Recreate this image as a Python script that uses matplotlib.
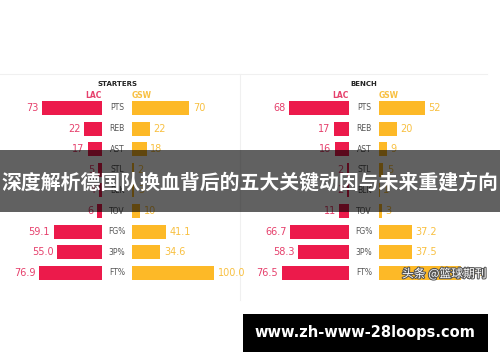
import matplotlib.pyplot as plt
import matplotlib.patheffects as pe
from matplotlib.patches import Rectangle

# stats rows (top to bottom)
stats = ['PTS', 'REB', 'AST', 'STL', 'BLK', 'TOV', 'FG%', '3P%', 'FT%']
value_fmt = ['{:.0f}'] * 6 + ['{:.1f}'] * 3

starters_lac = [73, 22, 17, 5, 4, 6, 59.1, 55.0, 76.9]
starters_gsw = [70, 22, 18, 2, 3, 10, 41.1, 34.6, 100.0]
bench_lac = [68, 17, 16, 2, 2, 11, 66.7, 58.3, 76.5]
bench_gsw = [52, 20, 9, 5, 1, 3, 37.2, 37.5, 93.3]

panel_titles = ['STARTERS', 'BENCH']
team_names = ['LAC', 'GSW']

RED = '#EC1A4B'
GOLD = '#FDB927'
RED_TXT = '#E6406C'
GOLD_TXT = '#F8C041'

W, H = 500, 362
fig = plt.figure(figsize=(W / 100, H / 100), dpi=100)
fig.patch.set_facecolor('white')

ROW = 20.6        # px per row
FIRST = 108       # px, centre of first row
TOP, BOT = 74, 292
HALF_GAP = 15     # px between bar and centre
MAX_PX = 82       # px length of the longest bar in a panel


def panel(x0, x1, center, lac, gsw, title):
    ax = fig.add_axes([x0 / W, 1 - BOT / H, (x1 - x0) / W, (BOT - TOP) / H])
    ax.axis('off')
    scale = MAX_PX / max(lac + gsw)              # px per unit
    ax.set_xlim(-(center - x0) / scale, (x1 - center) / scale)
    ax.set_ylim((BOT - FIRST) / ROW, -(FIRST - TOP) / ROW)
    gap = HALF_GAP / scale
    rows = range(len(stats))
    ax.barh(rows, lac, left=[-gap - v for v in lac], height=0.68, color=RED)
    ax.barh(rows, gsw, left=gap, height=0.68, color=GOLD)
    for i, (a, b) in enumerate(zip(lac, gsw)):
        ax.annotate(value_fmt[i].format(a), (-gap - a, i), xytext=(-2.5, 0),
                    textcoords='offset points', ha='right', va='center',
                    fontsize=7, color=RED_TXT)
        ax.annotate(value_fmt[i].format(b), (gap + b, i), xytext=(2.5, 0),
                    textcoords='offset points', ha='left', va='center',
                    fontsize=7, color=GOLD_TXT)
        ax.text(0, i, stats[i], ha='center', va='center', fontsize=5.5,
                color='#555555')
    ax.text(0, -(FIRST - 84) / ROW, title, ha='center', va='center',
            fontsize=5, fontweight='bold', color='#222222')
    ax.text(-gap, -(FIRST - 95) / ROW, team_names[0], ha='right',
            va='center', fontsize=5.5, fontweight='bold', color=RED_TXT)
    ax.text(gap, -(FIRST - 95) / ROW, team_names[1], ha='left',
            va='center', fontsize=5.5, fontweight='bold', color=GOLD_TXT)
    return ax


panel(0, 240, 117, starters_lac, starters_gsw, panel_titles[0])
panel(240, 487, 364, bench_lac, bench_gsw, panel_titles[1])

# faint frame lines
fig.add_artist(plt.Line2D([0, 487 / W], [1 - TOP / H] * 2, color='#f0f0f0',
                          lw=0.8, zorder=0))
fig.add_artist(plt.Line2D([240 / W] * 2, [1 - TOP / H, 1 - 300 / H],
                          color='#f0f0f0', lw=0.8, zorder=0))

# dark banner with title
fig.add_artist(Rectangle((0, 1 - 212 / H), 1, 62 / H, transform=fig.transFigure,
                         facecolor='black', alpha=0.62, edgecolor='none',
                         zorder=5))
fig.text(0.5, 1 - 183 / H, '深度解析德国队换血背后的五大关键动因与未来重建方向',
         ha='center', va='center', color='white', fontsize=14.3,
         fontweight='bold', family=['Noto Sans CJK SC', 'DejaVu Sans'],
         zorder=6)

# watermark
wm = fig.text(402 / W, 1 - 274 / H, '头条 @篮球期刊', ha='left', va='center',
              color='white', fontsize=8.5,
              family=['Noto Sans CJK SC', 'DejaVu Sans'],
              path_effects=[pe.withStroke(linewidth=1.5, foreground='#555555')])
wm.set_zorder(10)

# bottom url box
fig.add_artist(Rectangle((243 / W, 1 - 352 / H), 245 / W, 38 / H,
                         transform=fig.transFigure, facecolor='black',
                         edgecolor='none'))
fig.text(365 / W, 1 - 333 / H, 'www.zh-www-28loops.com', ha='center',
         va='center', color='white', fontsize=10.5, fontweight='bold')

fig.savefig('out.png', dpi=100)
